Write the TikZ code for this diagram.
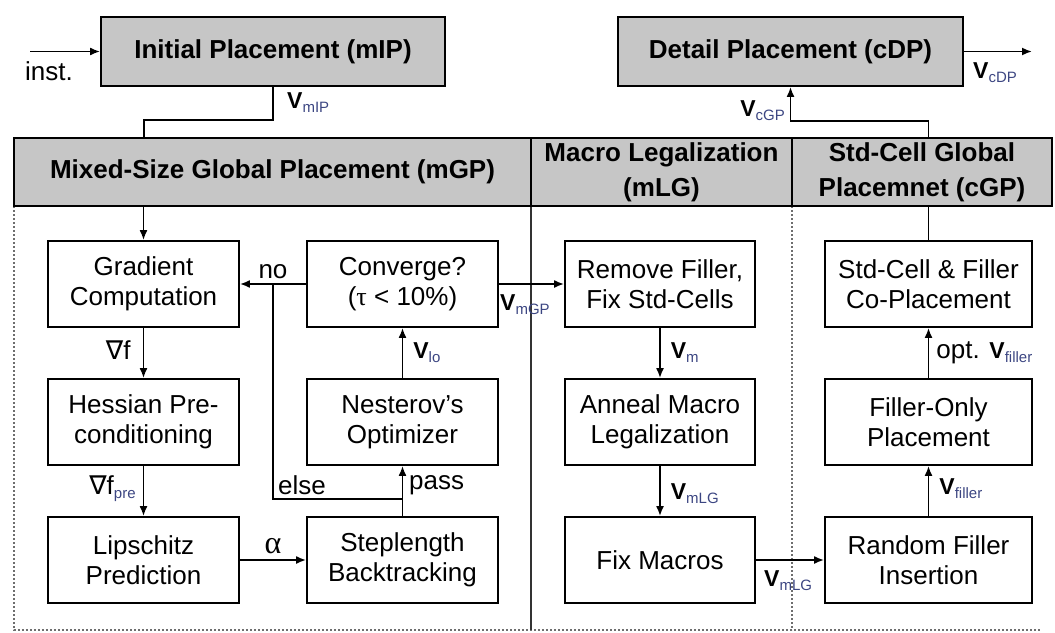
\documentclass[tikz,border=0pt]{standalone}
\usepackage{fontspec}
\setmainfont{Liberation Sans}
\newfontfamily\dejavu{DejaVu Sans}
\newfontfamily\serf{Liberation Serif}
\usetikzlibrary{arrows.meta}
\definecolor{hdrgray}{RGB}{198,198,198}
\definecolor{subc}{RGB}{60,70,130}
\definecolor{dotc}{RGB}{110,110,110}
\newcommand{\subtx}[1]{\raisebox{-4pt}{\fontsize{15}{17}\selectfont\color{subc}#1}}
\newcommand{\Vsub}[1]{{\fontsize{23}{27}\selectfont\textbf{V}}\subtx{#1}}
\begin{document}
\begin{tikzpicture}[x=1pt,y=-1pt,
  font=\fontsize{26}{30}\selectfont,
  box/.style={draw, line width=1.8pt, minimum width=191pt, minimum height=86pt, align=center, inner sep=0pt},
  gbox/.style={draw, line width=1.8pt, fill=hdrgray, align=center, inner sep=0pt, minimum height=69pt,
     font=\fontsize{26}{35}\selectfont\bfseries},
  arr/.style={line width=1.8pt, -{Latex[length=10pt,width=8pt]}},
  ln/.style={line width=1.8pt},
  dots/.style={line width=1.8pt, dotc, dash pattern=on 2pt off 2pt},
  lab/.style={font=\fontsize{26}{30}\selectfont, inner sep=0pt},
]
\useasboundingbox (0,0) rectangle (1055,632);

% region borders
\draw[dots] (14,206) -- (14,630) -- (1040,630);
\draw[dots] (792,206) -- (792,630);
\draw[ln, black!80] (531,206) -- (531,630);

% top boxes
\node[gbox, minimum width=344pt] (init) at (273,51.5) {Initial Placement (mIP)};
\node[gbox, minimum width=345pt] (detail) at (790.5,51.5) {Detail Placement (cDP)};

% headers
\node[gbox, minimum width=517pt, minimum height=68pt] (mgpH) at (272.5,172) {Mixed-Size Global Placement (mGP)};
\node[gbox, minimum width=261pt, minimum height=68pt] (mlgH) at (661.5,172) {Macro Legalization\\(mLG)};
\node[gbox, minimum width=260pt, minimum height=68pt] (cgpH) at (922,172) {Std-Cell Global\\Placemnet (cGP)};

% mGP boxes
\node[box] (grad) at (143.5,284) {Gradient\\Computation};
\node[box] (hess) at (143.5,422) {Hessian Pre-\\conditioning};
\node[box] (lip)  at (143.5,560) {Lipschitz\\Prediction};
\node[box] (conv) at (402.5,284) {Converge?\\({\serf τ} < 10\%)};
\node[box] (nest) at (402.5,422) {Nesterov's\\Optimizer};
\node[box] (step) at (402.5,560) {Steplength\\Backtracking};

% mLG boxes
\node[box, minimum width=190pt] (remove) at (660,284) {Remove Filler,\\Fix Std-Cells};
\node[box, minimum width=190pt] (anneal) at (660,422) {Anneal Macro\\Legalization};
\node[box, minimum width=190pt] (fixm)   at (660,560) {Fix Macros};

% cGP boxes
\node[box, minimum width=207pt] (coplace) at (928.5,284) {Std-Cell \& Filler\\Co-Placement};
\node[box, minimum width=207pt] (filler)  at (928.5,422) {Filler-Only\\Placement};
\node[box, minimum width=207pt] (random)  at (928.5,560) {Random Filler\\Insertion};

% input / output
\coordinate (instS) at (30,51.5);
\draw[arr] (instS) -- (init.west);
\node[lab] (instL) at (49,71) {inst.};
\coordinate (outE) at (1032,51.5);
\draw[arr] (detail.east) -- (outE);
\node[lab, anchor=west] (vcdp) at (973,73) {\Vsub{cDP}};

% init -> mGP
\coordinate (j2) at (144,120);
\draw[ln] (init.south) |- (j2) -- (j2 |- mgpH.north);
\node[lab, anchor=west] (vmip) at (287,103) {\Vsub{mIP}};
\draw[arr] (grad.north |- mgpH.south) -- (grad.north);

% mGP internal
\draw[arr] (grad) -- (hess) node[lab, pos=0.45, anchor=east, xshift=-12pt] (gf) {{\dejavu ∇}f};
\draw[arr] (hess) -- (lip) node[lab, pos=0.45, anchor=east, xshift=-7pt] (gfp) {{\dejavu ∇}f\subtx{pre}};
\draw[arr] (lip) -- (step) node[lab, midway, above=5pt] (alpha) {{\serf\fontsize{32}{34}\selectfont α}};
\draw[arr] (step) -- (nest);
\node[lab, anchor=west] (passL) at (409,485) {pass};
\coordinate (e1) at (402.5,499);
\coordinate (e3) at (273,284);
\draw[ln] (e1) -| (e3);
\node[lab, anchor=west] (elseL) at (278,485) {else};
\draw[arr] (nest) -- (conv) node[lab, midway, anchor=west, xshift=10pt] (vlo) {\Vsub{lo}};
\draw[arr] (conv) -- (grad) node[lab, anchor=south, pos=0.5, yshift=4pt] (noL) {no};

% mGP -> mLG
\draw[arr] (conv) -- (remove);
\node[lab, anchor=west] (vmgp) at (500,305) {\Vsub{mGP}};
\draw[arr] (remove) -- (anneal) node[lab, midway, anchor=west, xshift=10pt] (vm) {\Vsub{m}};
\draw[arr] (anneal) -- (fixm) node[lab, pos=0.55, anchor=west, xshift=10pt] (vmlg) {\Vsub{mLG}};

% mLG -> cGP
\draw[arr] (fixm) -- (random);
\node[lab, anchor=west] (vmlg2) at (764,581) {\Vsub{mLG}};
\draw[arr] (random) -- (filler) node[lab, pos=0.55, anchor=west, xshift=10pt] (vf) {\Vsub{filler}};
\draw[arr] (filler) -- (coplace) node[lab, midway, anchor=west, xshift=7pt] (vof) {opt. \Vsub{filler}};

% cGP -> detail
\draw[ln] (coplace.north) -- (coplace.north |- cgpH.south);
\coordinate (d1) at (790.5,121);
\draw[arr] (cgpH.north -| coplace.north) |- (d1) -- (detail.south);
\node[lab, anchor=east] (vcgp) at (785,111) {\Vsub{cGP}};
\end{tikzpicture}
\end{document}
